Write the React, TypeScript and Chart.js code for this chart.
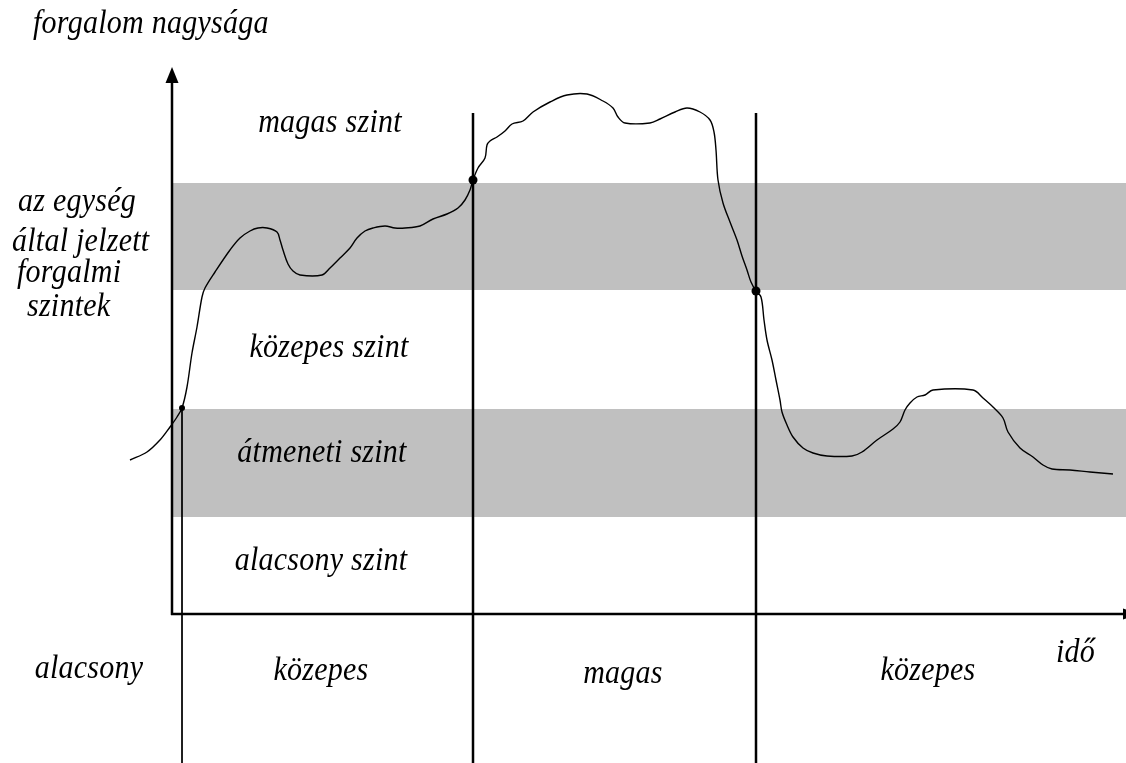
import React, { useEffect, useRef } from "react";
import { Chart, registerables } from "chart.js";

Chart.register(...registerables);

// Traffic curve: time (x) and traffic volume (y)
const time = [
  -4.2, -2.5, -1.2, -0.2, 0.5, 1.0, 1.5, 2.0, 2.5, 3.0, 3.3, 4.3, 5.8, 6.8, 7.8, 8.6, 9.5, 10.5, 10.8, 11.1,
  11.6, 12.1, 12.8, 15.0, 15.8, 16.8, 17.8, 18.5, 19.3, 20.1, 21.3, 22.3, 23.3, 24.8, 26.1, 27.5, 28.6, 29.3,
  29.8, 30.1, 30.6, 31.3, 31.5, 31.8, 32.5, 33.3, 34.0, 35.1, 36.1, 37.8, 39.5, 41.5, 43.1, 44.1, 44.6, 45.3,
  47.8, 48.8, 50.3, 51.5, 52.8, 53.8, 54.2, 54.4, 54.6, 55.1, 55.8, 56.5, 57.0, 57.5, 57.9, 58.4, 58.9, 59.2,
  59.5, 60.0, 60.4, 60.8, 61.0, 61.5, 62.1, 63.1, 64.1, 65.5, 68.0, 69.0, 70.5, 72.1, 72.8, 73.3, 73.8, 74.5,
  75.3, 76.1, 80.1, 81.1, 82.1, 83.1, 83.6, 84.8, 86.1, 87.1, 88.0, 89.8, 91.8, 94.1,
];
const traffic = [
  15.4, 16.2, 17.4, 18.7, 19.7, 20.6, 22.7, 26.1, 28.7, 31.7, 32.6, 34.2, 36.4, 37.6, 38.3, 38.6, 38.6, 38.2, 37.4, 36.4,
  35.0, 34.3, 33.9, 33.9, 34.6, 35.6, 36.6, 37.6, 38.3, 38.6, 38.8, 38.6, 38.6, 38.8, 39.5, 40.0, 40.6, 41.4,
  42.4, 43.4, 44.6, 45.6, 46.9, 47.3, 47.7, 48.3, 49.0, 49.3, 50.2, 51.2, 51.9, 52.0, 51.3, 50.6, 49.7, 49.1,
  49.1, 49.5, 50.2, 50.6, 50.2, 49.4, 48.2, 46.4, 43.4, 41.1, 39.2, 37.4, 35.8, 34.4, 33.2, 32.3, 31.7, 29.4,
  27.4, 25.4, 23.4, 21.4, 20.2, 18.9, 17.7, 16.6, 16.1, 15.8, 15.8, 16.2, 17.4, 18.5, 19.2, 20.4, 21.1, 21.7,
  21.9, 22.4, 22.4, 21.6, 20.7, 19.6, 18.2, 16.6, 15.7, 14.9, 14.5, 14.4, 14.2, 14.0,
];

// Level bands signalled by the unit (lower / upper traffic bounds)
const bandLower = [9.7, 32.4];
const bandUpper = [20.5, 43.1];

// Moments when the signalled level changes
const switchTimes = [1.0, 30.1, 58.4];
const switchLevels = [20.6, 43.4, 32.3];
const switchLineTops = [20.6, 50.1, 50.1];

// Axis extents
const xMin = -17.2;
const xMax = 95.4;
const yMin = -14.9;
const yMax = 61.4;
const axisTop = 54.7;

// Texts
const yTitle = "forgalom nagysága";
const xTitle = "idő";
const levelLabels = ["magas szint", "közepes szint", "átmeneti szint", "alacsony szint"];
const unitLabelLines = ["az egység", "által jelzett", "forgalmi", "szintek"];
const stateLabels = ["alacsony", "közepes", "magas", "közepes"];

const FONT = 'italic 30px "Liberation Serif", "Times New Roman", serif';

// Draws text slightly stretched vertically, as in the printed figure
function drawText(ctx: CanvasRenderingContext2D, text: string, x: number, y: number) {
  ctx.save();
  ctx.translate(x, y);
  ctx.scale(1, 1.1);
  ctx.fillText(text, 0, 0);
  ctx.restore();
}

const decorPlugin = {
  id: "decor",
  beforeDatasetsDraw(chart: any) {
    const { ctx, chartArea } = chart;
    const xs = chart.scales.x;
    const ys = chart.scales.y;
    ctx.save();
    ctx.fillStyle = "#c0c0c0";
    const left = xs.getPixelForValue(0);
    for (let i = 0; i < bandLower.length; i++) {
      const top = ys.getPixelForValue(bandUpper[i]);
      const bottom = ys.getPixelForValue(bandLower[i]);
      ctx.fillRect(left, top, chartArea.right - left, bottom - top);
    }
    ctx.restore();
  },
  afterDatasetsDraw(chart: any) {
    const { ctx, chartArea } = chart;
    const xs = chart.scales.x;
    const ys = chart.scales.y;
    const ox = xs.getPixelForValue(0);
    const oy = ys.getPixelForValue(0);
    const topY = ys.getPixelForValue(axisTop);
    ctx.save();
    ctx.strokeStyle = "#000";
    ctx.fillStyle = "#000";
    ctx.lineWidth = 2.5;
    // y axis with arrow
    ctx.beginPath();
    ctx.moveTo(ox, oy + 1);
    ctx.lineTo(ox, topY + 10);
    ctx.stroke();
    ctx.beginPath();
    ctx.moveTo(ox, topY);
    ctx.lineTo(ox - 6.5, topY + 16);
    ctx.lineTo(ox + 6.5, topY + 16);
    ctx.closePath();
    ctx.fill();
    // x axis with arrow (running off the right edge)
    const tip = chartArea.right + 12;
    ctx.beginPath();
    ctx.moveTo(ox - 1, oy);
    ctx.lineTo(tip - 8, oy);
    ctx.stroke();
    ctx.beginPath();
    ctx.moveTo(tip, oy);
    ctx.lineTo(tip - 15, oy - 5.5);
    ctx.lineTo(tip - 15, oy + 5.5);
    ctx.closePath();
    ctx.fill();

    // texts
    ctx.font = FONT;
    (ctx as any).letterSpacing = "0.25px";
    ctx.textBaseline = "alphabetic";
    ctx.textAlign = "left";
    drawText(ctx, yTitle, 33, 33);
    const unitPos = [
      [18, 211],
      [12, 251],
      [17, 282],
      [27, 316],
    ];
    unitLabelLines.forEach((t, i) => drawText(ctx, t, unitPos[i][0], unitPos[i][1]));

    ctx.textAlign = "center";
    const levelPos = [
      [330, 132],
      [329, 357],
      [322, 462],
      [321, 570],
    ];
    levelLabels.forEach((t, i) => drawText(ctx, t, levelPos[i][0], levelPos[i][1]));

    const statePos = [
      [89, 678],
      [321, 680],
      [623, 683],
      [928, 680],
    ];
    stateLabels.forEach((t, i) => drawText(ctx, t, statePos[i][0], statePos[i][1]));

    ctx.textAlign = "left";
    drawText(ctx, xTitle, 1056, 662);
    ctx.restore();
  },
};

export default function App() {
  const canvasRef = useRef<HTMLCanvasElement | null>(null);

  useEffect(() => {
    if (!canvasRef.current) return;
    const curve = time.map((t, i) => ({ x: t, y: traffic[i] }));
    const switchLines = switchTimes.map((t, i) => ({
      type: "line" as const,
      data: [
        { x: t, y: switchLineTops[i] },
        { x: t, y: yMin },
      ],
      borderColor: "#000",
      borderWidth: i === 0 ? 1 : 2.5,
      pointRadius: 0,
      tension: 0,
    }));
    const chart = new Chart(canvasRef.current, {
      type: "line",
      data: {
        datasets: [
          {
            data: curve,
            borderColor: "#000",
            borderWidth: 1.4,
            pointRadius: 0,
            tension: 0.35,
            fill: false,
          },
          ...switchLines,
          {
            type: "scatter" as const,
            data: switchTimes.map((t, i) => ({ x: t, y: switchLevels[i] })),
            backgroundColor: "#000",
            borderColor: "#000",
            pointRadius: [3, 4.5, 4.5],
            borderWidth: 0,
          },
        ] as any,
      },
      options: {
        animation: false,
        responsive: false,
        devicePixelRatio: 1,
        layout: { padding: 0, autoPadding: false },
        plugins: { legend: { display: false }, tooltip: { enabled: false } },
        events: [],
        scales: {
          x: { type: "linear", min: xMin, max: xMax, display: false },
          y: { type: "linear", min: yMin, max: yMax, display: false },
        },
      },
      plugins: [decorPlugin],
    });
    return () => chart.destroy();
  }, []);

  return (
    <div style={{ position: "fixed", left: 0, top: 0, width: 1126, height: 763, background: "#fff" }}>
      <canvas ref={canvasRef} width={1126} height={763} />
    </div>
  );
}
